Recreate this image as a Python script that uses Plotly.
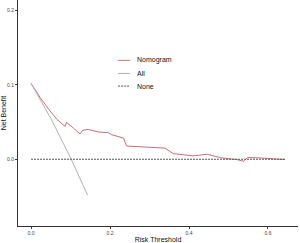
import plotly.graph_objects as go

# Data
nomo_t = [0.0, 0.023, 0.045, 0.065, 0.086, 0.09, 0.107, 0.124, 0.131, 0.145, 0.171, 0.196, 0.204,
          0.234, 0.242, 0.276, 0.301, 0.339, 0.36, 0.411, 0.445, 0.483, 0.521, 0.539, 0.548,
          0.58, 0.643]
nomo_nb = [0.102, 0.083, 0.067, 0.054, 0.044, 0.0495, 0.042, 0.034, 0.039, 0.040, 0.0366, 0.0356,
           0.033, 0.0285, 0.0178, 0.0165, 0.0156, 0.015, 0.0076, 0.0045, 0.0067, 0.0018, -0.0004,
           -0.0027, 0.0023, 0.0018, -0.0004]
all_t = [0.0, 0.05, 0.1, 0.143]
all_nb = [0.102, 0.055, 0.002, -0.048]
none_t = [0.0, 0.643]
none_nb = [0.0, 0.0]

legend_names = ["Nomogram", "All", "None"]
colors = ["#c86f78", "#b0b0b0", "#555555"]
dashes = ["solid", "solid", "2px,1px"]

fig = go.Figure()
fig.add_trace(go.Scatter(x=nomo_t, y=nomo_nb, mode="lines", name="Nomogram",
                         line=dict(color=colors[0], width=1)))
fig.add_trace(go.Scatter(x=all_t, y=all_nb, mode="lines", name="All",
                         line=dict(color=colors[1], width=1)))
fig.add_trace(go.Scatter(x=none_t, y=none_nb, mode="lines", name="None",
                         line=dict(color=colors[2], width=1, dash=dashes[2])))

# Manual compact legend
leg_y = [0.733, 0.675, 0.619]
for name, c, d, yy in zip(legend_names, colors, dashes, leg_y):
    fig.add_shape(type="line", xref="paper", yref="paper", x0=0.357, x1=0.40, y0=yy, y1=yy,
                  line=dict(color=c, width=1, dash=d))
    fig.add_annotation(xref="paper", yref="paper", x=0.418, y=yy, text=name, showarrow=False,
                       xanchor="left", yanchor="middle",
                       font=dict(family="Liberation Sans, Arial", size=7, color="#111111"))

fig.update_layout(
    width=300, height=243,
    margin=dict(l=18, r=2, t=0, b=15),
    plot_bgcolor="white", paper_bgcolor="white",
    showlegend=False,
    font=dict(family="Liberation Sans, Arial", color="#222222"),
)
fig.update_xaxes(range=[-0.033, 0.676], tickvals=[0.0, 0.2, 0.4, 0.6], ticktext=["0.0", "0.2", "0.4", "0.6"],
                 showgrid=False, zeroline=False, showline=True, linecolor="#333333", linewidth=1,
                 ticks="outside", ticklen=2, tickcolor="#333333", tickfont=dict(size=5, color="#444444"),
                 title=dict(text="Risk Threshold", font=dict(size=7, color="#111111"), standoff=2))
fig.update_yaxes(range=[-0.0897, 0.214], tickvals=[0.0, 0.1, 0.2], ticktext=["0.0", "0.1", "0.2"],
                 showgrid=False, zeroline=False, showline=True, linecolor="#333333", linewidth=1,
                 ticks="outside", ticklen=2, tickcolor="#333333", tickfont=dict(size=5, color="#444444"),
                 title=dict(text="Net Benefit", font=dict(size=7, color="#111111"), standoff=2))

fig.write_html("out.html")
